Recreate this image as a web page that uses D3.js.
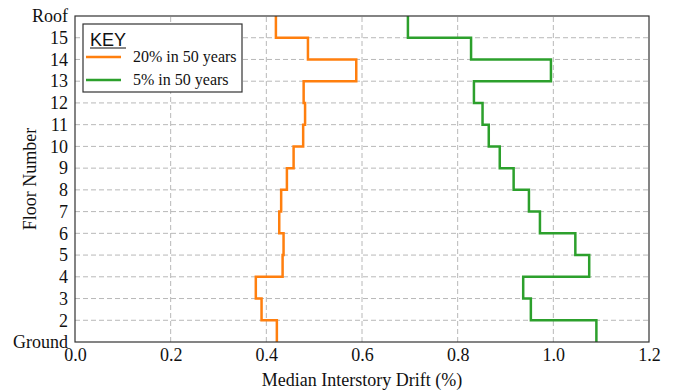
<!DOCTYPE html>
<html>
<head>
<meta charset="utf-8">
<script src="https://cdn.jsdelivr.net/npm/d3@7.9.0/dist/d3.min.js"></script>
<style>
  body { margin: 0; background: #fff; }
  svg text { font-family: "Liberation Serif", "Times New Roman", serif; fill: #111; }
</style>
</head>
<body>
<svg id="chart" width="674" height="391"></svg>
<script>
// floor levels: 1 = Ground ... 16 = Roof
const floorLabels = ['Ground', '2', '3', '4', '5', '6', '7', '8', '9', '10', '11', '12', '13', '14', '15', 'Roof'];
const xTicks = [0, 0.2, 0.4, 0.6, 0.8, 1.0, 1.2];

// median drift per story, from Ground->2 up to 15->Roof
const drift20 = [0.422, 0.390, 0.378, 0.434, 0.436, 0.427, 0.431, 0.443, 0.457, 0.477, 0.481, 0.478, 0.588, 0.487, 0.420];
const drift5 = [1.090, 0.953, 0.937, 1.075, 1.046, 0.972, 0.949, 0.917, 0.888, 0.865, 0.852, 0.834, 0.995, 0.828, 0.696];

const seriesNames = ['20% in 50 years', '5% in 50 years'];
const seriesColors = ['#ff7f0e', '#2ca02c'];

const margin = { left: 75, right: 25, top: 16, bottom: 49 };
const width = 674, height = 391;
const svg = d3.select('#chart');

const x = d3.scaleLinear().domain([0, 1.2]).range([margin.left, width - margin.right]);
const y = d3.scaleLinear().domain([1, 16]).range([height - margin.bottom, margin.top]);

// grid
const grid = svg.append('g').attr('stroke', '#b8b8b8').attr('stroke-width', 1).attr('stroke-dasharray', '5,3');
xTicks.slice(1, -1).forEach((t) => {
  grid.append('line').attr('x1', x(t)).attr('x2', x(t)).attr('y1', y(1)).attr('y2', y(16));
});
d3.range(2, 16).forEach((f) => {
  grid.append('line').attr('x1', x(0)).attr('x2', x(1.2)).attr('y1', y(f)).attr('y2', y(f));
});

// step lines
function stepPoints(values) {
  const pts = [];
  values.forEach((v, i) => {
    pts.push([v, i + 1], [v, i + 2]);
  });
  return pts;
}
const line = d3.line().x((d) => x(d[0])).y((d) => y(d[1]));
[drift20, drift5].forEach((vals, idx) => {
  svg.append('path')
    .attr('d', line(stepPoints(vals)))
    .attr('fill', 'none')
    .attr('stroke', seriesColors[idx])
    .attr('stroke-width', 2.5);
});

// frame
svg.append('rect')
  .attr('x', x(0)).attr('y', y(16))
  .attr('width', x(1.2) - x(0)).attr('height', y(1) - y(16))
  .attr('fill', 'none').attr('stroke', '#333').attr('stroke-width', 1.2);

// axes
const xAxis = svg.append('g')
  .attr('transform', `translate(0,${y(1)})`)
  .call(d3.axisBottom(x).tickValues(xTicks).tickFormat(d3.format('.1f')).tickSize(0).tickPadding(6));
xAxis.select('.domain').remove();
xAxis.selectAll('text').attr('font-size', 18).attr('font-family', '"Liberation Serif", serif');

const yAxis = svg.append('g')
  .attr('transform', `translate(${x(0)},0)`)
  .call(d3.axisLeft(y).tickValues(d3.range(1, 17)).tickFormat((d) => floorLabels[d - 1]).tickSize(0).tickPadding(7));
yAxis.select('.domain').remove();
yAxis.selectAll('text').attr('font-size', 18).attr('font-family', '"Liberation Serif", serif');

svg.append('text')
  .attr('x', (x(0) + x(1.2)) / 2).attr('y', 386)
  .attr('text-anchor', 'middle').attr('font-size', 18)
  .text('Median Interstory Drift (%)');

svg.append('text')
  .attr('transform', `translate(36,${(y(1) + y(16)) / 2}) rotate(-90)`)
  .attr('text-anchor', 'middle').attr('font-size', 18)
  .text('Floor Number');

// legend
const legend = svg.append('g').attr('transform', 'translate(83,24)');
legend.append('rect').attr('width', 159).attr('height', 68)
  .attr('fill', '#fff').attr('stroke', '#333').attr('stroke-width', 1.2);
legend.append('text').attr('x', 7).attr('y', 22)
  .attr('font-size', 18).style('font-family', '"Liberation Sans", Arial, sans-serif')
  .text('KEY');
legend.append('line').attr('x1', 7).attr('x2', 43).attr('y1', 24).attr('y2', 24)
  .attr('stroke', '#111').attr('stroke-width', 1);
seriesNames.forEach((name, i) => {
  const yy = 33 + i * 23;
  legend.append('line').attr('x1', 3).attr('x2', 38).attr('y1', yy).attr('y2', yy)
    .attr('stroke', seriesColors[i]).attr('stroke-width', 2.5);
  legend.append('text').attr('x', 50).attr('y', yy + 5).attr('font-size', 16).text(name);
});
</script>
</body>
</html>
